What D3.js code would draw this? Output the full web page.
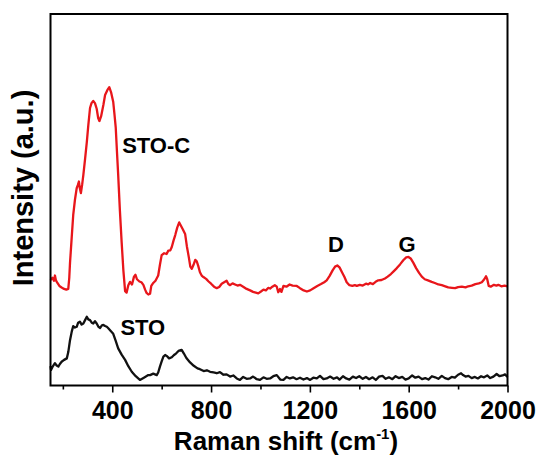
<!DOCTYPE html>
<html><head><meta charset="utf-8">
<script src="https://cdn.jsdelivr.net/npm/d3@7"></script>
<style>
body{margin:0;background:#fff}
svg text{font-family:"Liberation Sans",Arial,sans-serif;font-weight:bold;fill:#000}
</style>
</head><body>
<svg id="chart" width="537" height="459"></svg>
<script>
// ---- data ----
const majorTicks = [400, 800, 1200, 1600, 2000];
const minorTicks = [200, 600, 1000, 1400, 1800];
const tickLabels = ["400", "800", "1200", "1600", "2000"];

const redShift = [150,158,164,168,172,178,186,195,205,214,222,226,229,236,242,249,256,261,265,269,273,278,283,290,297,303,310,316,323,330,337,343,348,355,364,371,380,388,395,404,409,414,419,424,431,438,445,452,458,465,472,480,488,494,500,510,518,526,533,539,546,553,558,566,575,586,593,600,610,620,627,635,641,648,655,663,671,678,686,695,702,710,716,722,729,736,742,748,755,762,769,780,790,800,812,823,833,843,853,863,870,877,887,897,907,917,930,944,958,970,981,991,1002,1012,1022,1032,1039,1048,1058,1066,1072,1079,1085,1093,1105,1118,1130,1147,1160,1175,1188,1201,1215,1230,1245,1258,1268,1280,1292,1302,1311,1320,1330,1340,1349,1360,1372,1382,1390,1402,1414,1427,1436,1444,1455,1466,1477,1490,1504,1515,1528,1540,1552,1565,1578,1590,1599,1608,1619,1630,1642,1653,1665,1678,1693,1706,1720,1734,1748,1760,1775,1788,1800,1815,1830,1841,1855,1870,1884,1896,1906,1913,1918,1924,1932,1945,1955,1963,1975,1988,2000];
const redIntensity = [28.4,29.0,28.2,29.6,28.3,27.6,26.8,26.4,26.0,25.8,26.0,29.0,33.0,40.0,45.9,50.0,53.1,54.0,54.9,53.0,51.8,54.0,56.7,61.0,65.5,70.0,74.7,76.0,76.6,76.0,74.5,72.0,71.2,72.5,75.5,78.2,79.5,80.3,79.0,76.3,73.0,69.5,63.0,56.7,47.0,38.6,31.0,25.4,25.0,27.0,27.9,27.2,29.3,29.8,28.6,28.0,27.8,27.1,25.8,24.9,24.5,24.7,26.8,27.6,28.2,29.6,32.5,35.1,35.6,35.4,36.3,36.4,37.3,39.0,40.5,42.5,43.9,43.0,42.0,40.8,37.5,34.5,32.0,31.4,32.5,33.8,33.4,32.2,30.5,29.6,29.2,28.7,28.0,27.4,26.6,26.2,26.5,27.4,27.8,28.2,27.3,27.0,27.5,27.2,26.9,27.1,26.6,26.0,25.6,25.2,25.0,24.8,25.3,25.8,25.6,26.3,26.1,26.6,27.0,26.6,25.1,26.0,25.2,26.8,26.6,27.2,26.9,26.8,26.2,25.6,25.3,25.6,26.2,26.8,27.3,27.8,28.3,29.5,31.0,32.0,32.3,31.8,30.5,29.2,27.8,27.0,26.8,27.0,26.8,27.1,26.9,27.4,27.2,27.6,27.3,27.9,28.3,28.4,28.8,29.3,30.0,30.8,31.6,32.6,33.7,34.5,34.6,34.2,33.0,31.6,30.3,29.3,28.6,28.3,27.9,27.6,27.2,27.0,26.7,26.4,26.3,26.2,26.5,26.6,26.4,26.7,26.9,27.3,27.5,27.8,28.6,29.4,28.6,26.8,26.6,27.1,26.9,27.1,26.7,26.9,26.7];

const stoShift = [150,152,158,168,175,182,188,195,205,216,222,229,236,242,249,256,262,269,276,283,290,297,303,310,317,323,330,337,344,351,358,364,371,378,384,392,404,414,424,438,452,465,479,495,512,528,546,553,566,580,586,593,600,607,614,622,630,641,650,658,668,681,690,700,715,730,745,755,770,783,796,810,823,836,850,863,877,890,904,917,930,944,958,970,985,998,1012,1025,1039,1052,1066,1080,1093,1106,1119,1132,1146,1160,1174,1188,1201,1214,1228,1241,1255,1268,1282,1296,1310,1320,1334,1347,1360,1374,1387,1400,1414,1427,1440,1454,1467,1480,1494,1507,1520,1534,1547,1560,1574,1587,1600,1614,1627,1640,1654,1667,1680,1694,1707,1720,1734,1747,1760,1774,1787,1800,1812,1820,1830,1842,1855,1868,1880,1893,1905,1918,1930,1943,1956,1968,1980,1990,2000];
const stoIntensity = [5.2,4.2,5.0,6.0,5.4,5.1,5.8,6.4,6.9,7.3,9.0,12.2,14.5,16.0,15.6,15.8,16.9,17.2,16.4,16.7,17.6,18.5,17.8,17.6,16.9,16.7,17.3,16.7,15.8,15.5,16.2,16.3,16.0,15.8,15.4,14.8,13.9,12.0,10.0,8.3,6.9,5.2,3.7,2.5,1.5,2.1,2.8,2.8,3.2,2.8,3.5,5.1,6.5,7.8,8.2,7.9,7.3,7.6,8.2,8.6,9.3,9.6,8.6,7.4,6.2,5.3,4.6,4.4,3.9,4.1,3.7,3.5,3.3,3.6,2.9,3.0,2.4,2.7,1.9,1.5,2.3,1.8,1.9,2.4,1.7,1.5,2.2,1.8,1.9,2.5,2.8,1.6,1.5,2.3,1.9,2.2,1.7,2.1,1.6,2.0,1.5,2.1,1.9,2.6,1.7,1.9,2.4,1.8,2.2,1.6,2.5,1.9,1.6,2.4,2.0,2.5,1.8,2.3,1.7,2.2,1.5,2.4,2.6,1.8,2.2,1.7,2.5,2.0,2.3,1.6,1.9,2.7,2.1,2.4,1.7,2.0,1.6,2.5,2.2,1.8,2.6,2.0,1.7,2.3,2.1,2.9,3.3,2.8,2.4,2.6,2.0,2.3,1.9,2.5,2.2,2.7,2.0,2.4,3.1,2.5,2.7,3.0,2.3];

const labels = [
  {text: "STO-C", shift: 440, intensity: 62.5, anchor: "start"},
  {text: "STO",   shift: 433, intensity: 13.5, anchor: "start"},
  {text: "D",     shift: 1306, intensity: 36.0, anchor: "middle"},
  {text: "G",     shift: 1593, intensity: 36.0, anchor: "middle"}
];

// ---- chart ----
const svg = d3.select("#chart");
const x = d3.scaleLinear().domain([150, 2000]).range([50.5, 507.5]);
const y = d3.scaleLinear().domain([0, 100]).range([385.5, 14]);

// curves
const line = d3.line().x(d => x(d[0])).y(d => y(d[1]));
const redData = redShift.map((s, i) => [s, redIntensity[i]]);
const stoData = stoShift.map((s, i) => [s, stoIntensity[i]]);

svg.append("path").datum(redData).attr("d", line)
  .attr("fill", "none").attr("stroke", "#e8161b").attr("stroke-width", 2.3)
  .attr("stroke-linejoin", "round");
svg.append("path").datum(stoData).attr("d", line)
  .attr("fill", "none").attr("stroke", "#111").attr("stroke-width", 2.3)
  .attr("stroke-linejoin", "round");

// frame
svg.append("rect").attr("x", x(150)).attr("y", y(100))
  .attr("width", x(2000) - x(150)).attr("height", y(0) - y(100))
  .attr("fill", "none").attr("stroke", "#000").attr("stroke-width", 2);

// bottom axis major
const axMajor = svg.append("g").attr("transform", `translate(0,${y(0)})`)
  .call(d3.axisBottom(x).tickValues(majorTicks).tickSize(7).tickPadding(9)
    .tickFormat((d, i) => tickLabels[i]));
axMajor.select(".domain").remove();
axMajor.selectAll(".tick line").attr("stroke", "#000").attr("stroke-width", 1.6);
axMajor.selectAll(".tick text").attr("font-size", 25).style("font-family", "'Liberation Sans',Arial,sans-serif").style("font-weight", "bold").attr("fill", "#000");

const axMinor = svg.append("g").attr("transform", `translate(0,${y(0)})`)
  .call(d3.axisBottom(x).tickValues(minorTicks).tickSize(4).tickFormat(""));
axMinor.select(".domain").remove();
axMinor.selectAll(".tick line").attr("stroke", "#000").attr("stroke-width", 1.6);

// axis titles
const xt = svg.append("text").attr("x", 286).attr("y", 450)
  .attr("text-anchor", "middle").attr("font-size", 26);
xt.append("tspan").text("Raman shift (cm");
xt.append("tspan").text("-1").attr("font-size", 15).attr("dy", -11);
xt.append("tspan").text(")").attr("dy", 11);

svg.append("text").attr("transform", "translate(33,188) rotate(-90)")
  .attr("text-anchor", "middle").attr("font-size", 29).text("Intensity (a.u.)");

// curve labels
svg.selectAll(".lbl").data(labels).enter().append("text")
  .attr("class", "lbl")
  .attr("x", d => x(d.shift)).attr("y", d => y(d.intensity))
  .attr("text-anchor", d => d.anchor).attr("font-size", 22)
  .text(d => d.text);
</script>
</body></html>
